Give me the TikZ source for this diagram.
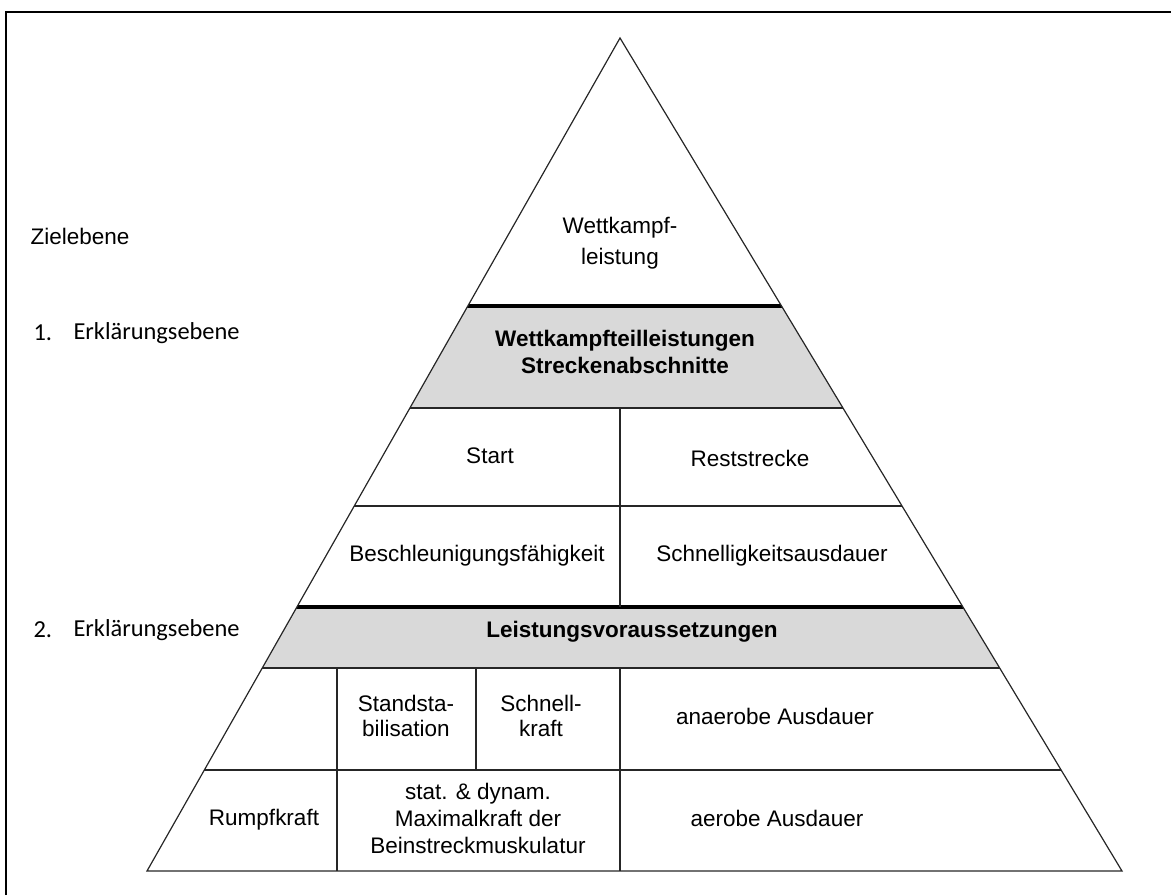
\documentclass[tikz,border=0pt]{standalone}
\usepackage{fontspec}
\setmainfont{Liberation Sans}
\newfontfamily\calibri{Carlito}
\usepackage{xcolor}
\definecolor{bandgray}{HTML}{D9D9D9}
\usetikzlibrary{positioning, calc}

\tikzset{
  cell/.style={align=center, font=\fontsize{22.5}{27}\selectfont},
  band/.style={align=center, font=\bfseries\fontsize{22.5}{27}\selectfont},
  levellabel/.style={anchor=west, font=\calibri\fontsize{24.4}{28}\selectfont},
  thinline/.style={line width=1.2pt, draw=black!85},
  divider/.style={line width=4pt},
}

\begin{document}
\begin{tikzpicture}[x=1pt, y=-1pt]
  \useasboundingbox (0,0) rectangle (1171,895);
  % frame
  \draw[line width=2.5pt] (6,895) -- (6,12) -- (1171,12);

  % pyramid
  \coordinate (apex) at (620,38);
  \coordinate (bl) at (147,871);
  \coordinate (br) at (1122,871);
  \begin{scope}
    \clip (apex) -- (bl) -- (br) -- cycle;
    \fill[bandgray] (0,306) rectangle (1171,408);
    \fill[bandgray] (0,607) rectangle (1171,668);
    \draw[divider] (0,306) -- (1171,306);
    \draw[divider] (0,607) -- (1171,607);
    \draw[thinline] (0,408) -- (1171,408);
    \draw[thinline] (0,506) -- (1171,506);
    \draw[thinline] (0,668) -- (1171,668);
    \draw[thinline] (0,770) -- (1171,770);
  \end{scope}
  \draw[thinline] (apex) -- (bl) -- (br) -- cycle;
  \draw[thinline] (620,408) -- (620,607);
  \draw[thinline] (620,668) -- (620,871);
  \draw[thinline] (337,668) -- (337,871);
  \draw[thinline] (476,668) -- (476,770);

  % left labels
  \node[anchor=west, font=\fontsize{22.5}{27}\selectfont] (ziel) at (27,236) {Zielebene};
  \node[levellabel] (num1) at (30,333) {1.};
  \node[levellabel] (erk1) at (70,333) {Erklärungsebene};
  \node[levellabel] (num2) at (30,630) {2.};
  \node[levellabel] (erk2) at (70,630) {Erklärungsebene};

  % pyramid texts
  \node[cell, font=\fontsize{22.5}{31}\selectfont] (wk) at (620,243) {Wettkampf-\\leistung};
  \node[band] (teil) at (625,352) {Wettkampfteilleistungen\\Streckenabschnitte};
  \node[cell] (start) at (490,456) {Start};
  \node[cell] (rest) at (750,458) {Reststrecke};
  \node[cell] (besch) at (477,556) {Beschleunigungsfähigkeit};
  \node[cell] (schnaus) at (772,556) {Schnelligkeitsausdauer};
  \node[band] (lv) at (632,632) {Leistungsvoraussetzungen};
  \node[cell, font=\fontsize{22.5}{25}\selectfont] (stand) at (406,716) {Standsta-\\bilisation};
  \node[cell, font=\fontsize{22.5}{25}\selectfont] (schk) at (541,716) {Schnell-\\kraft};
  \node[cell] (anaer) at (775,716) {anaerobe Ausdauer};
  \node[cell] (rumpf) at (264,820) {Rumpfkraft};
  \node[cell] (maxk) at (478,818) {stat. \& dynam.\\Maximalkraft der\\Beinstreckmuskulatur};
  \node[cell] (aer) at (777,818) {aerobe Ausdauer};
\end{tikzpicture}
\end{document}
